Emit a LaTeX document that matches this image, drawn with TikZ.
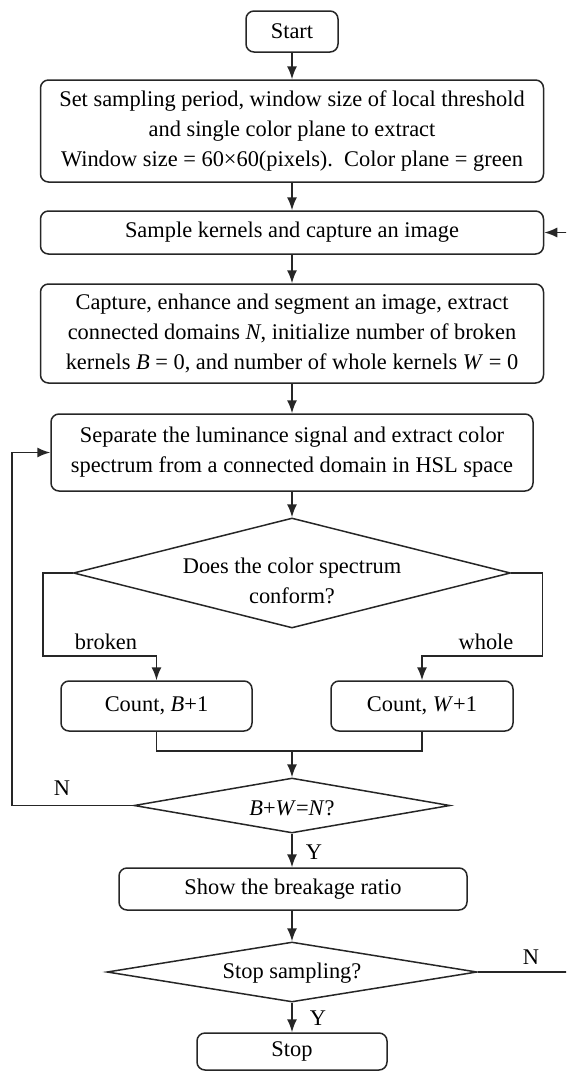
\documentclass[tikz,border=0pt]{standalone}
\usepackage{fontspec}
\setmainfont{Liberation Serif}
\usetikzlibrary{shapes.geometric,arrows.meta}

\begin{document}
\begin{tikzpicture}[x=1pt,y=-1pt,
  line width=1.5pt,
  every node/.style={font=\fontsize{22.4}{30}\selectfont, text=black},
  proc/.style={draw=black!85, rounded corners=8pt, align=center, inner sep=0pt},
  decide/.style={draw=black!85, diamond, align=center, inner sep=0pt},
  link/.style={draw=black!85},
  arr/.style={draw=black!85, -{Latex[length=13pt,width=10pt]}},
  tag/.style={inner sep=0pt}
]
\useasboundingbox (0,0) rectangle (566,1071);
\clip (0,0) rectangle (566,1071);

% process boxes
\node[proc, minimum width=92pt,  minimum height=41pt] (start) at (292,31.5) {Start};
\node[proc, minimum width=503pt, minimum height=102pt] (set) at (292,131)
  {Set sampling period, window size of local threshold\\
   and single color plane to extract\\
   Window size = 60×60(pixels).\ \ Color plane = green};
\node[proc, minimum width=503pt, minimum height=43pt] (sample) at (292,232.5)
  {Sample kernels and capture an image};
\node[proc, minimum width=503pt, minimum height=99pt] (capture) at (292,333.5)
  {Capture, enhance and segment an image, extract\\
   connected domains \textit{N}, initialize number of broken\\
   kernels \textit{B} = 0, and number of whole kernels \textit{W} = 0};
\node[proc, minimum width=482pt, minimum height=77pt] (separate) at (292,452.5)
  {Separate the luminance signal and extract color\\
   spectrum from a connected domain in HSL space};

% colour spectrum test
\node[decide, minimum width=437pt, minimum height=110pt, aspect=3.97] (d1) at (292,573) {};
\node[tag, align=center] (d1txt) at (292,581) {Does the color spectrum\\conform?};

\node[proc, minimum width=191pt, minimum height=50pt] (countB) at (156.5,706) {Count, \textit{B}+1};
\node[proc, minimum width=182pt, minimum height=50pt] (countW) at (422,706) {Count, \textit{W}+1};

\node[decide, minimum width=316pt, minimum height=55pt, aspect=5.75] (d2) at (292,805.5) {};
\node[tag] (d2txt) at (292,808) {\textit{B}+\textit{W}=\textit{N}?};

\node[proc, minimum width=348pt, minimum height=42pt] (show) at (293,889) {Show the breakage ratio};

\node[decide, minimum width=370pt, minimum height=60pt, aspect=6.17] (d3) at (292,972) {};
\node[tag] (d3txt) at (292,973) {Stop sampling?};

\node[proc, minimum width=190pt, minimum height=37pt] (stop) at (292,1051.5) {Stop};

% branch labels
\node[tag] (lbroken) at (106,642) {broken};
\node[tag] (lwhole) at (486,642) {whole};
\node[tag] (ln1) at (62,788) {N};
\node[tag] (ly1) at (314,852) {Y};
\node[tag] (ln2) at (531,957) {N};
\node[tag] (ly2) at (318,1018) {Y};

% bend points
\coordinate (bl) at (43,656);
\coordinate (br) at (542.6,656);
\coordinate (mj) at (292,751);
\coordinate (ll) at (12,452.5);
\coordinate (rr) at (568,232.5);

% main flow
\draw[arr] (start) -- (set);
\draw[arr] (set) -- (sample);
\draw[arr] (sample) -- (capture);
\draw[arr] (capture) -- (separate);
\draw[arr] (separate) -- (d1.north);
\draw[arr] (d1.west) -| (bl) -| (countB.north);
\draw[arr] (d1.east) -| (br) -| (countW.north);
\draw[link] (countB.south) |- (mj) -| (countW.south);
\draw[arr] (mj) -- (d2.north);
\draw[arr] (d2.south) -- (show.north -| d2.south);
\draw[arr] (show.south -| d3.north) -- (d3.north);
\draw[arr] (d3.south) -- (stop.north);

% loops back
\draw[arr] (d2.west) -| (ll) -- (separate.west);
\draw[arr] (d3.east) -| (rr) -- (sample.east);
\end{tikzpicture}
\end{document}
